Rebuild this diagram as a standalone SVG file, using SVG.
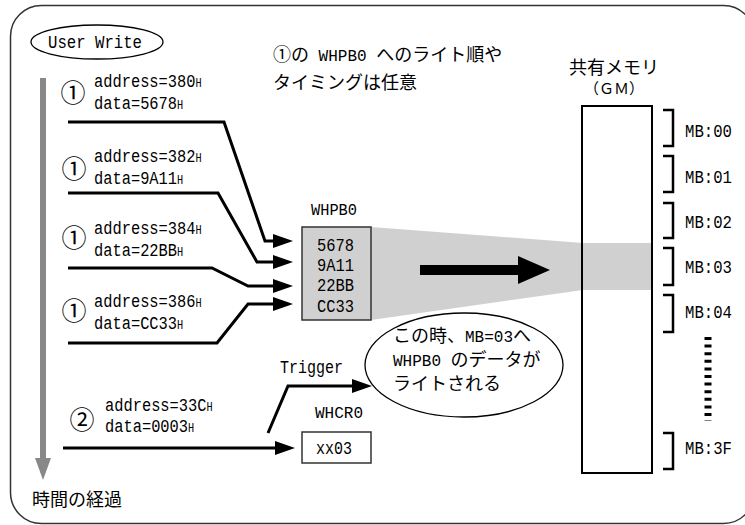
<svg xmlns="http://www.w3.org/2000/svg" width="745" height="525" viewBox="0 0 745 525">
<style>
.lat{font-family:"Liberation Mono",monospace;font-size:18px;fill:#000}
.sm{font-size:12px}
.jp{font-family:"Liberation Mono","Noto Sans CJK JP",monospace;font-size:18px;fill:#000}
.jp .l{font-size:16px}
.cn{font-family:"Noto Sans CJK JP",sans-serif;font-size:25px;text-anchor:middle;dominant-baseline:central;fill:#000}
.conn{fill:none;stroke:#000;stroke-width:3;stroke-linejoin:miter}
.br{fill:none;stroke:#000;stroke-width:2.5}
</style>
<defs>
<marker id="ah" markerUnits="userSpaceOnUse" markerWidth="20" markerHeight="14" viewBox="0 0 20 14" refX="14" refY="7" orient="auto">
<path d="M0,0 L20,7 L0,14 z" fill="#000"/>
</marker>
</defs>
<rect id="frame" x="10.5" y="5.5" width="744" height="518" rx="31" ry="31" fill="#fff" stroke="#333" stroke-width="1.5"/>

<g id="timeline">
<rect x="40" y="78" width="6" height="381" fill="#888"/>
<polygon points="35,458 51,458 43,480" fill="#888"/>
<text class="jp" x="32" y="506">時間の経過</text>
</g>

<g id="userWrite">
<ellipse cx="97" cy="42" rx="66" ry="17" fill="#fff" stroke="#000" stroke-width="1.3"/>
<text class="lat" x="48" y="48" textLength="94" lengthAdjust="spacingAndGlyphs">User Write</text>
</g>

<g id="note">
<text class="jp" x="273" y="61">①の<tspan class="l"> WHPB0 </tspan>へのライト順や</text>
<text class="jp" x="273" y="89">タイミングは任意</text>
</g>

<g id="write1">
<text class="cn" x="73" y="91">①</text>
<text class="lat" transform="translate(94,87) scale(0.855,1)">address=380<tspan class="sm">H</tspan></text>
<text class="lat" transform="translate(94,109) scale(0.855,1)">data=5678<tspan class="sm">H</tspan></text>
</g>
<g id="write2">
<text class="cn" x="74" y="167">①</text>
<text class="lat" transform="translate(94,162) scale(0.855,1)">address=382<tspan class="sm">H</tspan></text>
<text class="lat" transform="translate(94,184) scale(0.855,1)">data=9A11<tspan class="sm">H</tspan></text>
</g>
<g id="write3">
<text class="cn" x="74" y="236">①</text>
<text class="lat" transform="translate(94,234) scale(0.855,1)">address=384<tspan class="sm">H</tspan></text>
<text class="lat" transform="translate(94,256) scale(0.855,1)">data=22BB<tspan class="sm">H</tspan></text>
</g>
<g id="write4">
<text class="cn" x="74" y="309">①</text>
<text class="lat" transform="translate(94,307) scale(0.855,1)">address=386<tspan class="sm">H</tspan></text>
<text class="lat" transform="translate(94,329) scale(0.855,1)">data=CC33<tspan class="sm">H</tspan></text>
</g>
<g id="write5">
<text class="cn" x="82" y="418">②</text>
<text class="lat" transform="translate(105,411) scale(0.855,1)">address=33C<tspan class="sm">H</tspan></text>
<text class="lat" transform="translate(105,432) scale(0.855,1)">data=0003<tspan class="sm">H</tspan></text>
</g>

<g id="transfer">
<polygon points="371,227 583,243 651,243 651,290 583,290 371,320" fill="#d0d0d0"/>
<path d="M420,265 H518 V256 L550,270 L518,284 V275 H420 z" fill="#000"/>
</g>

<g id="gm">
<text class="jp" x="614" y="74" text-anchor="middle">共有メモリ</text>
<text class="jp" x="614" y="94" text-anchor="middle" style="font-size:15px">（ＧＭ）</text>
<rect x="582" y="106" width="70" height="367" fill="none" stroke="#000" stroke-width="2"/>
</g>

<g id="mbs">
<path class="br" d="M663,110 H673 V146 H663"/>
<text class="lat" x="685" y="137" textLength="47" lengthAdjust="spacingAndGlyphs">MB:00</text>
<path class="br" d="M663,156 H673 V192 H663"/>
<text class="lat" x="685" y="183" textLength="47" lengthAdjust="spacingAndGlyphs">MB:01</text>
<path class="br" d="M663,203 H673 V238 H663"/>
<text class="lat" x="685" y="228" textLength="47" lengthAdjust="spacingAndGlyphs">MB:02</text>
<path class="br" d="M663,248 H673 V285 H663"/>
<text class="lat" x="685" y="273" textLength="47" lengthAdjust="spacingAndGlyphs">MB:03</text>
<path class="br" d="M663,295 H673 V332 H663"/>
<text class="lat" x="685" y="318" textLength="47" lengthAdjust="spacingAndGlyphs">MB:04</text>
<line x1="708" y1="337" x2="708" y2="421" stroke="#000" stroke-width="7" stroke-dasharray="3 4.6"/>
<path class="br" d="M663,433 H673 V469 H663"/>
<text class="lat" x="685" y="454" textLength="47" lengthAdjust="spacingAndGlyphs">MB:3F</text>
</g>

<g id="whpb0">
<text class="lat" x="311" y="215" textLength="46" lengthAdjust="spacingAndGlyphs" style="font-size:16px">WHPB0</text>
<rect x="302" y="227" width="69" height="93" fill="#d0d0d0" stroke="#333" stroke-width="1.5"/>
<text class="lat" x="317" y="251" textLength="37" lengthAdjust="spacingAndGlyphs">5678</text>
<text class="lat" x="317" y="271" textLength="37" lengthAdjust="spacingAndGlyphs">9A11</text>
<text class="lat" x="317" y="291" textLength="37" lengthAdjust="spacingAndGlyphs">22BB</text>
<text class="lat" x="317" y="312" textLength="37" lengthAdjust="spacingAndGlyphs">CC33</text>
</g>

<g id="whcr0">
<text class="lat" x="315" y="418" textLength="48" lengthAdjust="spacingAndGlyphs" style="font-size:16px">WHCR0</text>
<rect x="302" y="432" width="69" height="31" fill="#fff" stroke="#333" stroke-width="1.5"/>
<text class="lat" x="316" y="454" textLength="36" lengthAdjust="spacingAndGlyphs">xx03</text>
</g>

<g id="bubble">
<ellipse cx="464" cy="365" rx="99" ry="52" fill="#fff" stroke="#000" stroke-width="1.3"/>
<text class="jp" x="393" y="342">この時、<tspan class="l">MB=03</tspan>へ</text>
<text class="jp" x="393" y="366"><tspan class="l">WHPB0 </tspan>のデータが</text>
<text class="jp" x="393" y="390">ライトされる</text>
</g>

<g id="connectors">
<path class="conn" d="M68,122 H224 L265,241 H287" marker-end="url(#ah)"/>
<path class="conn" d="M68,193 H218 L257,262 H287" marker-end="url(#ah)"/>
<path class="conn" d="M68,268 H212 L248,286 H287" marker-end="url(#ah)"/>
<path class="conn" d="M68,343 H217 L248,304 H287" marker-end="url(#ah)"/>
<path class="conn" d="M63,448 H289" marker-end="url(#ah)"/>
<path class="conn" d="M268,433 L288,386 H366" marker-end="url(#ah)"/>
<text class="lat" x="280" y="373" textLength="63" lengthAdjust="spacingAndGlyphs">Trigger</text>
</g>
</svg>
